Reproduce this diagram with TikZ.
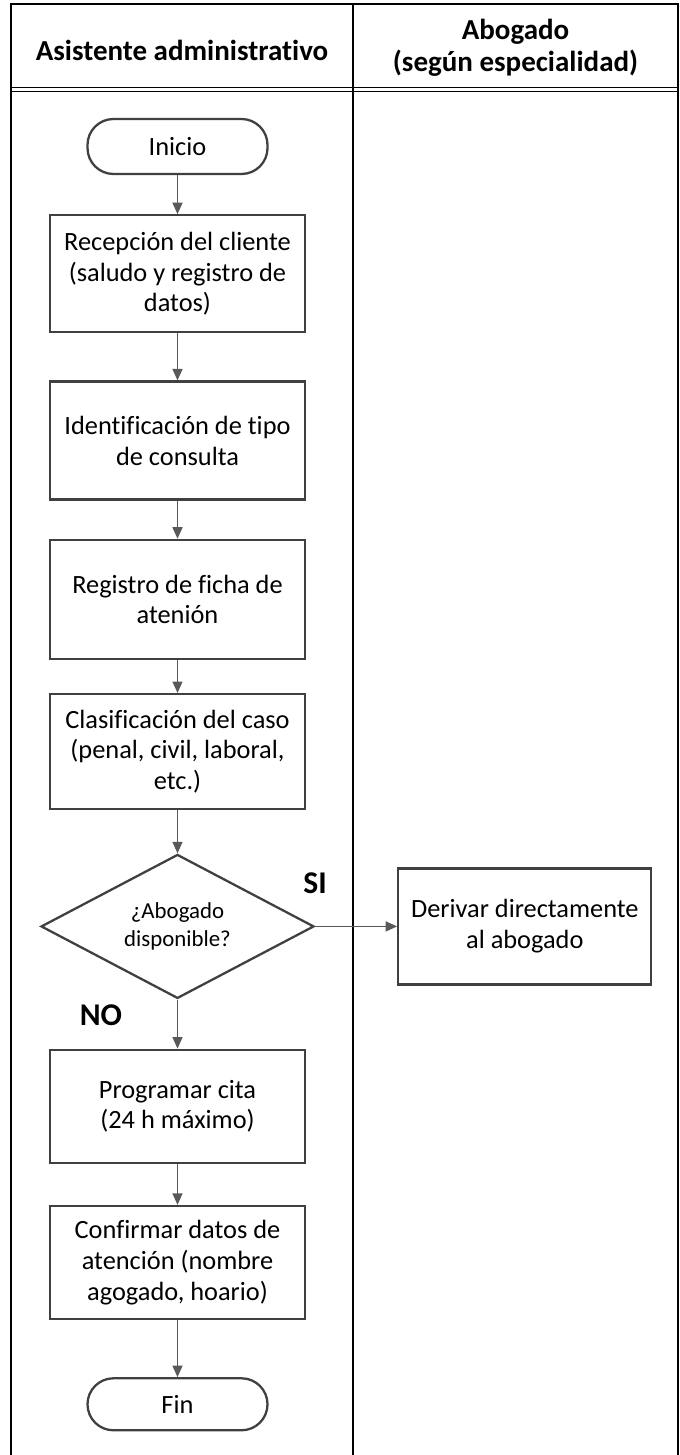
\documentclass[tikz,border=0pt]{standalone}
\usepackage{fontspec}
\setmainfont{Carlito}[Ligatures=NoCommon]
\usepackage{tikz}
\usetikzlibrary{positioning}
\usetikzlibrary{shapes.geometric}
\usetikzlibrary{arrows.meta}
\usetikzlibrary{calc}
\usepackage{xcolor}
\definecolor{boxgray}{HTML}{404040}
\definecolor{arrgray}{HTML}{595959}

\begin{document}
\begin{tikzpicture}[
  font=\fontsize{15}{17.5}\selectfont,
  proc/.style={
    draw=boxgray, line width=1.3pt,
    align=center,
    minimum width=5.1cm,
    minimum height=2.33cm,
    inner sep=4pt
  },
  term/.style={draw=boxgray, line width=1.3pt, rounded corners=5.2mm, minimum width=3.6cm, minimum height=1.1cm},
  decision/.style={draw=boxgray, line width=1.3pt, diamond, aspect=1.9, inner sep=0pt,
    minimum width=5.46cm, minimum height=2.88cm, align=center, font=\fontsize{13}{15.5}\selectfont},
  arrow/.style={-{Triangle[length=2.3mm, width=2mm]}, draw=arrgray, line width=0.8pt},
  lane/.style={draw=black, line width=0.6pt},
  head/.style={font=\bfseries\fontsize{16.5}{18}\selectfont, align=center},
  lbl/.style={font=\bfseries\fontsize{18}{20}\selectfont}
]
\useasboundingbox (0,0) rectangle (13.6,-29.1);

% --- Swimlane table ---
\draw[lane] (0.22,-29.1) -- (0.22,-0.08) -- (13.56,-0.08) -- (13.56,-29.1);
\draw[lane] (7.06,-0.08) -- (7.06,-29.1);
\draw[lane] (0.22,-1.75) -- (13.56,-1.75);
\draw[lane] (0.22,-1.83) -- (13.56,-1.83);
\node[head] (H1) at (3.64,-1.0) {Asistente administrativo};
\node[head] (H2) at (10.31,-0.95) {Abogado\\(según especialidad)};

% --- Main flow (stacked) ---
\node[term] (ini) at (3.55,-2.93) {Inicio};
\node[proc, below=0.78cm of ini, minimum height=2.34cm] (rec) {Recepción del cliente\\(saludo y registro de\\datos)};
\node[proc, below=0.94cm of rec, minimum height=2.36cm] (ide) {Identificación de tipo\\de consulta};
\node[proc, below=0.76cm of ide, minimum height=2.38cm] (reg) {Registro de ficha de\\atenión};
\node[proc, below=0.66cm of reg, minimum height=2.3cm] (cla) {Clasificación del caso\\(penal, civil, laboral,\\etc.)};
\node[decision, below=0.86cm of cla] (dia) {¿Abogado\\disponible?};
\node[proc, below=0.98cm of dia, minimum height=2.26cm] (pro) {Programar cita\\(24 h máximo)};
\node[proc, below=0.82cm of pro, minimum height=2.26cm] (con) {Confirmar datos de\\atención (nombre\\agogado, hoario)};
\node[term, below=1.14cm of con, minimum height=1.04cm] (fin) {Fin};

% --- Lawyer lane ---
\node[proc, right=1.64cm of dia, minimum width=5.06cm, minimum height=2.32cm] (der) {Derivar directamente\\al abogado};

% --- Connectors + labels ---
\draw[arrow] (ini) -- (rec);
\draw[arrow] (rec) -- (ide);
\draw[arrow] (ide) -- (reg);
\draw[arrow] (reg) -- (cla);
\draw[arrow] (cla) -- (dia);
\draw[arrow] (dia) -- (pro);
\draw[arrow] (pro) -- (con);
\draw[arrow] (con) -- (fin);
\draw[arrow] (dia.east) -- (der.west);
\node[lbl] (si) at ($(dia.east)+(0,0.86)$) {SI};
\node[lbl] (no) at ($(dia.south)+(-1.53,-0.32)$) {NO};

\end{tikzpicture}
\end{document}
